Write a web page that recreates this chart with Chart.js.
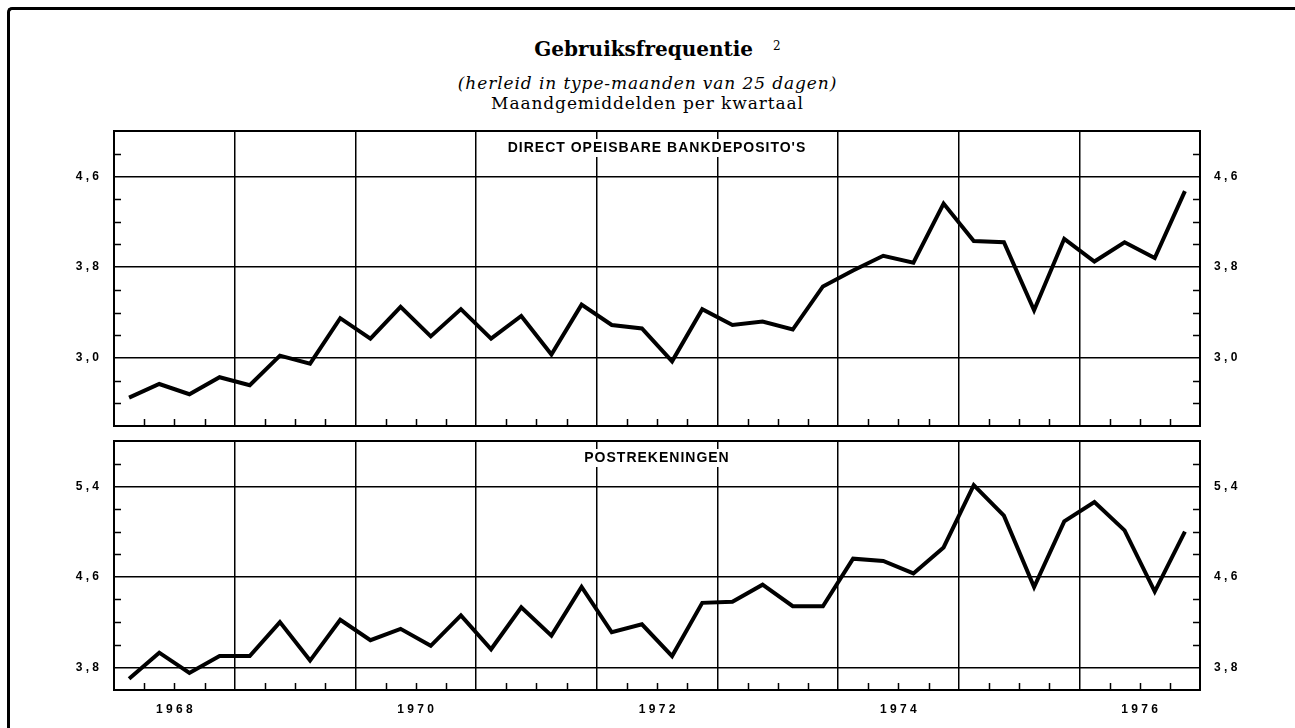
<!DOCTYPE html>
<html lang="nl">
<head>
<meta charset="utf-8">
<title>Gebruiksfrequentie</title>
<script src="https://cdn.jsdelivr.net/npm/chart.js@4.4.0/dist/chart.umd.min.js"></script>
<style>
  html, body { margin: 0; padding: 0; background: #fff; }
  body { width: 1295px; height: 728px; overflow: hidden; position: relative; }
  .kader { position: absolute; left: 7px; top: 7px; width: 1300px; height: 740px;
           border-top: 3px solid #000; border-left: 3px solid #000; border-top-left-radius: 5px; }
  .kop { position: absolute; left: 0; width: 1295px; text-align: center; color: #000; white-space: nowrap; }
  #titel { top: 37px; font: bold 20px "DejaVu Serif", serif; padding-left: 10px; }
  #titel sup { font-size: 12px; font-weight: normal; margin-left: 20px; vertical-align: 6px; }
  #sub1 { top: 73px; font: italic 17px "DejaVu Serif", serif; letter-spacing: 0.9px; }
  #sub2 { top: 93px; font: 17px "DejaVu Serif", serif; letter-spacing: 0.9px; }
  canvas { position: absolute; left: 0; }
  #bank { top: 126px; }
  #post { top: 436px; }
</style>
</head>
<body>
<div class="kader"></div>
<div class="kop" id="titel">Gebruiksfrequentie<sup>2</sup></div>
<div class="kop" id="sub1">(herleid in type-maanden van 25 dagen)</div>
<div class="kop" id="sub2">Maandgemiddelden per kwartaal</div>
<canvas id="bank" width="1295" height="305"></canvas>
<canvas id="post" width="1295" height="290"></canvas>

<script>
// jaren en kwartalen op de horizontale as
const jaren = [1968, 1969, 1970, 1971, 1972, 1973, 1974, 1975, 1976];
const kwartalen = ['I', 'II', 'III', 'IV'];
const jaarLabels = [1968, 1970, 1972, 1974, 1976];

// maandgemiddelden per kwartaal
const bankdeposito = [
  2.65, 2.77, 2.68, 2.83,  2.76, 3.02, 2.95, 3.35,  3.17, 3.45, 3.19, 3.43,
  3.17, 3.37, 3.03, 3.47,  3.29, 3.26, 2.97, 3.43,  3.29, 3.32, 3.25, 3.63,
  3.77, 3.90, 3.84, 4.36,  4.03, 4.02, 3.42, 4.05,  3.85, 4.02, 3.88, 4.47
];
const postrekeningen = [
  3.70, 3.93, 3.75, 3.90,  3.90, 4.20, 3.86, 4.22,  4.04, 4.14, 3.99, 4.26,
  3.96, 4.33, 4.08, 4.51,  4.11, 4.18, 3.90, 4.37,  4.38, 4.53, 4.34, 4.34,
  4.76, 4.74, 4.63, 4.86,  5.41, 5.14, 4.51, 5.09,  5.26, 5.01, 4.47, 5.00
];

// gelabelde waarden met doorlopende rasterlijn
const bankHoofdlijnen = [4.6, 3.8, 3.0];
const postHoofdlijnen = [5.4, 4.6, 3.8];

const zwart = '#000';
const tickFont = { family: '"Liberation Sans", Arial, sans-serif', size: 12, weight: 'bold' };

// midden van elk kwartaal
const kwartaalPos = jaren.flatMap(j => kwartalen.map((k, q) => j + (q + 0.5) / kwartalen.length));

const bijna = (a, b) => Math.abs(a - b) < 1e-6;
const isHoofd = (v, lijst) => lijst.some(h => bijna(v, h));
const isJaar = v => bijna(v, Math.round(v));
const spatieer = s => s.split('').join(' ');

// rand, naar binnen gerichte streepjes en paneeltitel
const kaderPlugin = {
  id: 'kader',
  afterDraw(chart, args, opts) {
    const { ctx, chartArea: a, scales } = chart;
    ctx.save();
    ctx.strokeStyle = zwart;
    ctx.lineWidth = 1.5;
    ctx.beginPath();
    scales.y.ticks.forEach(t => {
      if (isHoofd(t.value, opts.hoofdlijnen) || bijna(t.value, scales.y.min) || bijna(t.value, scales.y.max)) return;
      const py = Math.round(scales.y.getPixelForValue(t.value)) + 0.5;
      ctx.moveTo(a.left, py); ctx.lineTo(a.left + 7, py);
      ctx.moveTo(a.right - 7, py); ctx.lineTo(a.right, py);
    });
    scales.x.ticks.forEach(t => {
      if (isJaar(t.value)) return;
      const px = Math.round(scales.x.getPixelForValue(t.value)) + 0.5;
      ctx.moveTo(px, a.bottom); ctx.lineTo(px, a.bottom - 7);
    });
    ctx.stroke();

    ctx.lineWidth = 2;
    ctx.strokeRect(a.left, a.top, a.right - a.left, a.bottom - a.top);

    ctx.font = 'bold 14px "Liberation Sans", Arial, sans-serif';
    if ('letterSpacing' in ctx) ctx.letterSpacing = '1px';
    const tx = (a.left + a.right) / 2;
    const ty = a.top + 17;
    const w = ctx.measureText(opts.titel).width;
    ctx.fillStyle = '#fff';
    ctx.fillRect(tx - w / 2 - 5, ty - 9, w + 10, 18);
    ctx.fillStyle = zwart;
    ctx.textAlign = 'center';
    ctx.textBaseline = 'middle';
    ctx.fillText(opts.titel, tx, ty);
    ctx.restore();
  }
};

function maakGrafiek(id, reeks, hoofdlijnen, yMin, yMax, titel, metJaren) {
  const yLabel = v => isHoofd(v, hoofdlijnen) ? spatieer(v.toFixed(1).replace('.', ',')) : '';
  const yTicks = { stepSize: 0.2, autoSkip: false, padding: 15, color: zwart, font: tickFont, callback: yLabel };
  // vaste asbreedtes, geen extra ruimte boven/onder voor de labels
  const vasteBreedte = breedte => s => { s.width = breedte; s.paddingTop = 0; s.paddingBottom = 0; };

  return new Chart(document.getElementById(id), {
    type: 'line',
    data: {
      datasets: [{
        data: reeks.map((v, i) => ({ x: kwartaalPos[i], y: v })),
        borderColor: zwart,
        borderWidth: 4,
        borderJoinStyle: 'miter',
        pointRadius: 0,
        tension: 0,
        fill: false
      }]
    },
    options: {
      responsive: false,
      animation: false,
      events: [],
      layout: { autoPadding: false, padding: { top: 5, bottom: metJaren ? 11 : 5, left: 0, right: 0 } },
      plugins: {
        legend: { display: false },
        tooltip: { enabled: false },
        kader: { hoofdlijnen, titel }
      },
      scales: {
        x: {
          type: 'linear',
          min: jaren[0],
          max: jaren[jaren.length - 1] + 1,
          border: { display: false },
          grid: {
            drawTicks: false,
            lineWidth: 1.5,
            color: c => isJaar(c.tick.value) ? zwart : 'rgba(0,0,0,0)'
          },
          ticks: {
            display: metJaren,
            stepSize: 0.25,
            autoSkip: false,
            maxRotation: 0,
            padding: 12,
            color: zwart,
            font: tickFont,
            callback: v => {
              const j = Math.floor(v);
              return bijna(v, j + 0.5) && jaarLabels.includes(j) ? spatieer(String(j)) : '';
            }
          },
          afterFit: s => { s.height = metJaren ? 25 : 0; s.paddingLeft = 0; s.paddingRight = 0; }
        },
        y: {
          type: 'linear',
          position: 'left',
          min: yMin,
          max: yMax,
          border: { display: false },
          grid: {
            drawTicks: false,
            lineWidth: 1.5,
            color: c => isHoofd(c.tick.value, hoofdlijnen) ? zwart : 'rgba(0,0,0,0)'
          },
          ticks: yTicks,
          afterFit: vasteBreedte(114)
        },
        y2: {
          type: 'linear',
          position: 'right',
          min: yMin,
          max: yMax,
          border: { display: false },
          grid: { display: false, drawTicks: false },
          ticks: Object.assign({}, yTicks, { padding: 14 }),
          afterFit: vasteBreedte(95)
        }
      }
    },
    plugins: [kaderPlugin]
  });
}

maakGrafiek('bank', bankdeposito, bankHoofdlijnen, 2.4, 5.0, "DIRECT OPEISBARE BANKDEPOSITO'S", false);
maakGrafiek('post', postrekeningen, postHoofdlijnen, 3.6, 5.8, 'POSTREKENINGEN', true);
</script>
</body>
</html>
